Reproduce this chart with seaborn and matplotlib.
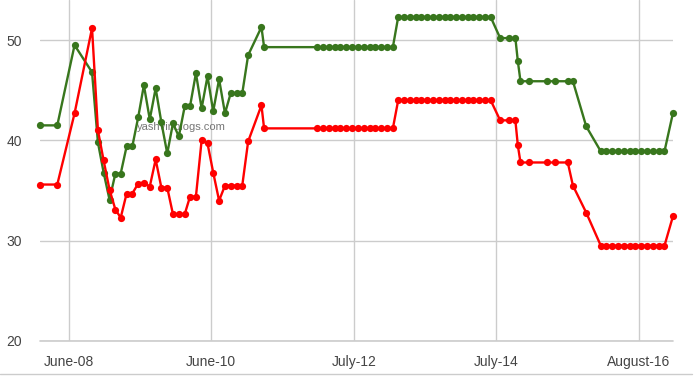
import matplotlib
matplotlib.use("Agg")
import matplotlib.pyplot as plt
from matplotlib.lines import Line2D
import seaborn as sns
import pandas as pd

dates = [
    "2008-01-01", "2008-04-01", "2008-07-01", "2008-10-01", "2008-11-01", "2008-12-01",
    "2009-01-01", "2009-02-01", "2009-03-01", "2009-04-01", "2009-05-01", "2009-06-01",
    "2009-07-01", "2009-08-01", "2009-09-01", "2009-10-01", "2009-11-01", "2009-12-01",
    "2010-01-01", "2010-02-01", "2010-03-01", "2010-04-01", "2010-05-01", "2010-06-01",
    "2010-07-01", "2010-08-01", "2010-09-01", "2010-10-01", "2010-11-01", "2010-12-01",
    "2011-01-01", "2011-03-12", "2011-03-26",
    "2012-01-01", "2012-02-01", "2012-03-01", "2012-04-01", "2012-05-01", "2012-06-01",
    "2012-07-01", "2012-08-01", "2012-09-01", "2012-10-01", "2012-11-01", "2012-12-01",
    "2013-01-01", "2013-02-01",
    "2013-03-01", "2013-04-01", "2013-05-01", "2013-06-01", "2013-07-01", "2013-08-01",
    "2013-09-01", "2013-10-01", "2013-11-01", "2013-12-01", "2014-01-01", "2014-02-01",
    "2014-03-01", "2014-04-01", "2014-05-01", "2014-06-01", "2014-07-01",
    "2014-08-20", "2014-10-08", "2014-11-08", "2014-11-21", "2014-12-05", "2015-01-18",
    "2015-04-24", "2015-06-06", "2015-08-11", "2015-09-07", "2015-11-16",
    "2016-02-01", "2016-03-01", "2016-04-01", "2016-05-01", "2016-06-01", "2016-07-01",
    "2016-08-01", "2016-09-01", "2016-10-01", "2016-11-01", "2016-12-01", "2017-01-01",
    "2017-02-15",
]

green_values = [
    41.5, 41.5, 49.5, 46.8, 39.8, 36.8,
    34.1, 36.7, 36.7, 39.4, 39.4, 42.3,
    45.5, 42.1, 45.2, 41.8, 38.7, 41.7,
    40.4, 43.4, 43.4, 46.7, 43.2, 46.4,
    42.9, 46.1, 42.7, 44.7, 44.7, 44.7,
    48.5, 51.3, 49.3,
    49.3, 49.3, 49.3, 49.3, 49.3, 49.3,
    49.3, 49.3, 49.3, 49.3, 49.3, 49.3,
    49.3, 49.3,
    52.3, 52.3, 52.3, 52.3, 52.3, 52.3,
    52.3, 52.3, 52.3, 52.3, 52.3, 52.3,
    52.3, 52.3, 52.3, 52.3, 52.3,
    50.2, 50.2, 50.2, 47.9, 45.9, 45.9,
    45.9, 45.9, 45.9, 45.9, 41.4,
    38.9, 38.9, 38.9, 38.9, 38.9, 38.9,
    38.9, 38.9, 38.9, 38.9, 38.9, 38.9,
    42.75,
]

red_values = [
    35.6, 35.6, 42.7, 51.2, 41.0, 38.0,
    35.1, 33.1, 32.3, 34.7, 34.7, 35.7,
    35.8, 35.4, 38.1, 35.3, 35.3, 32.65,
    32.65, 32.65, 34.4, 34.4, 40.0, 39.7,
    36.8, 34.0, 35.5, 35.5, 35.5, 35.5,
    39.9, 43.5, 41.2,
    41.2, 41.2, 41.2, 41.2, 41.2, 41.2,
    41.2, 41.2, 41.2, 41.2, 41.2, 41.2,
    41.2, 41.2,
    44.0, 44.0, 44.0, 44.0, 44.0, 44.0,
    44.0, 44.0, 44.0, 44.0, 44.0, 44.0,
    44.0, 44.0, 44.0, 44.0, 44.0,
    42.0, 42.0, 42.0, 39.5, 37.8, 37.8,
    37.8, 37.8, 37.8, 35.5, 32.8,
    29.5, 29.5, 29.5, 29.5, 29.5, 29.5,
    29.5, 29.5, 29.5, 29.5, 29.5, 29.5,
    32.45,
]

tick_dates = ["2008-06-01", "2010-06-19", "2012-07-11", "2014-07-28", "2016-08-20"]
tick_labels = ["June-08", "June-10", "July-12", "July-14", "August-16"]
y_ticks = [20, 30, 40, 50]
watermark = "yashvinblogs.com"

sns.set_style("white")
plt.rcParams["font.family"] = ["Liberation Sans", "DejaVu Sans"]

W, H = 699, 383
fig = plt.figure(figsize=(W / 100, H / 100), dpi=100)
ax = fig.add_axes([40 / W, (H - 341) / H, (673 - 40) / W, 341 / H])

df = pd.DataFrame({
    "date": pd.to_datetime(dates),
    "green": green_values,
    "red": red_values,
})

grid_c = "#cccccc"
text_c = "#444444"

ax.text((137 - 40) / (673 - 40), 1 - 127.3 / 341, watermark,
        transform=ax.transAxes, fontsize=8, color="#777777", ha="left", va="center", zorder=1)

sns.lineplot(data=df, x="date", y="green", ax=ax, color="#38761d", linewidth=1.7,
             marker="o", markersize=5.2, markeredgewidth=0, zorder=3, clip_on=False)
sns.lineplot(data=df, x="date", y="red", ax=ax, color="#ff0000", linewidth=1.7,
             marker="o", markersize=5.2, markeredgewidth=0, zorder=4, clip_on=False)

ax.set_xlim(df["date"].iloc[0], df["date"].iloc[-1])
ax.set_ylim(20, 54)
ax.set_yticks(y_ticks)
ax.set_yticklabels([str(v) for v in y_ticks])
ax.set_xticks(pd.to_datetime(tick_dates))
ax.set_xticklabels(tick_labels)
ax.set_xlabel("")
ax.set_ylabel("")

ax.grid(True, color=grid_c, linewidth=1)
ax.set_axisbelow(True)
ax.axhline(20, color=grid_c, linewidth=1.2, clip_on=False, zorder=0.5)
for s in ax.spines.values():
    s.set_visible(False)
ax.tick_params(axis="both", length=0, labelsize=10, colors=text_c)
ax.tick_params(axis="x", pad=10)
ax.tick_params(axis="y", pad=13)

fig.add_artist(Line2D([0, 692 / W], [1 - 374 / H, 1 - 374 / H], color=grid_c, linewidth=1))

fig.savefig("out.png", dpi=100)
